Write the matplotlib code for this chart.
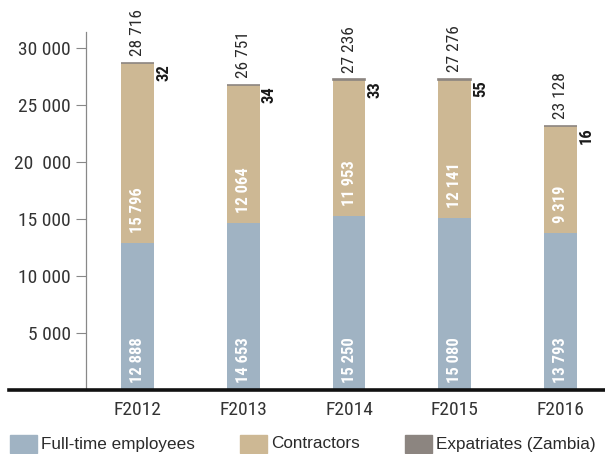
import matplotlib
matplotlib.use("Agg")
import matplotlib.pyplot as plt
from matplotlib.lines import Line2D

years = ["F2012", "F2013", "F2014", "F2015", "F2016"]
full_time = [12888, 14653, 15250, 15080, 13793]
contractors = [15796, 12064, 11953, 12141, 9319]
expatriates = [32, 34, 33, 55, 16]
totals = [28716, 26751, 27236, 27276, 23128]
ytick_values = [5000, 10000, 15000, 20000, 25000, 30000]
ytick_labels = ["5 000", "10 000", "15 000", "20  000", "25 000", "30 000"]
legend_names = ["Full-time employees", "Contractors", "Expatriates (Zambia)"]

C_FT = "#a0b3c3"
C_CON = "#cdb894"
C_EXP = "#8c8580"
NARROW = ["Roboto Condensed", "Archivo Narrow", "DejaVu Sans"]
REGULAR = ["Liberation Sans", "DejaVu Sans"]


def fmt(v):
    return f"{v:,}".replace(",", " ")


W, H = 605, 454
fig = plt.figure(figsize=(W / 100, H / 100), dpi=100)
ax = fig.add_axes([86 / W, 64 / H, (W - 86) / W, (390 - 32) / H])

x = list(range(len(years)))
bw = 0.31
ax.bar(x, full_time, width=bw, color=C_FT, linewidth=0)
ax.bar(x, contractors, width=bw, bottom=full_time, color=C_CON, linewidth=0)
exp_bottom = [a + b for a, b in zip(full_time, contractors)]
ax.bar(x, expatriates, width=bw, bottom=exp_bottom, color=C_EXP,
       edgecolor=C_EXP, linewidth=1.2)

ax.set_xlim(-0.487, 4.42)
ax.set_ylim(0, 31400)

for i in x:
    ax.annotate(fmt(full_time[i]), (i, 0), xytext=(0, 5), textcoords="offset points",
                rotation=90, ha="center", va="bottom", color="white",
                fontweight="bold", fontsize=12, family=NARROW)
    ax.annotate(fmt(contractors[i]), (i, full_time[i]), xytext=(0, 7),
                textcoords="offset points", rotation=90, ha="center", va="bottom",
                color="white", fontweight="bold", fontsize=12, family=NARROW)
    ax.annotate(fmt(totals[i]), (i, totals[i]), xytext=(0, 5),
                textcoords="offset points", rotation=90, ha="center", va="bottom",
                color="#2a2a2a", fontsize=12.5, family=NARROW)
    ax.annotate(fmt(expatriates[i]), (i + bw / 2, totals[i]), xytext=(7, -1),
                textcoords="offset points", rotation=90, ha="center", va="top",
                color="#1a1a1a", fontweight="bold", fontsize=12, family=NARROW)

ax.set_yticks(ytick_values)
ax.set_yticklabels(ytick_labels, family=NARROW, fontsize=14, color="#333333")
ax.set_xticks(x)
ax.set_xticklabels(years, family=NARROW, fontsize=14, color="#333333")
ax.tick_params(axis="y", length=7, width=0.8, color="#888888", pad=4)
ax.tick_params(axis="x", length=0, pad=8)

for s in ["top", "right", "bottom"]:
    ax.spines[s].set_visible(False)
ax.spines["left"].set_color("#888888")
ax.spines["left"].set_linewidth(0.9)

fig.add_artist(Line2D([9 / W, 1], [64 / H, 64 / H], color="#111111", linewidth=2.6,
                      transform=fig.transFigure))

xs = [10, 240, 405]
for xp, col, n in zip(xs, [C_FT, C_CON, C_EXP], legend_names):
    fig.add_artist(plt.Rectangle((xp / W, 1 / H), 27 / W, 18 / H, color=col,
                                 transform=fig.transFigure))
    fig.text((xp + 31) / W, 10 / H, n, family=REGULAR, fontsize=12.3,
             color="#2a2a2a", va="center", ha="left")

fig.savefig("out.png", dpi=100)
